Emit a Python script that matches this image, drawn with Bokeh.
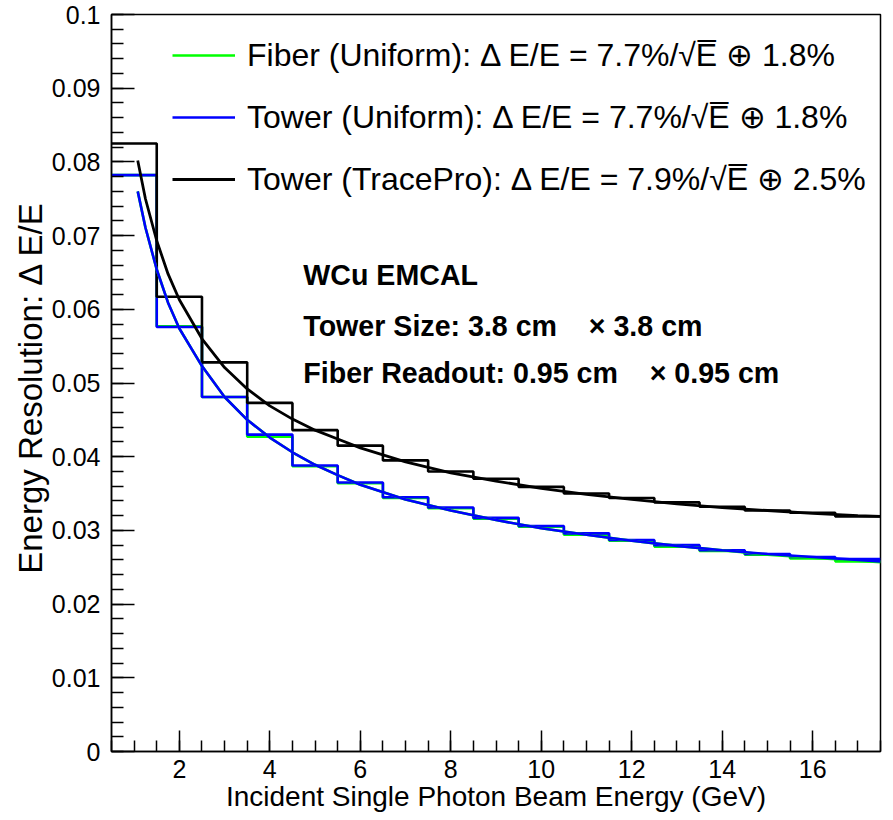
from bokeh.plotting import figure
from bokeh.models import Range1d, FixedTicker, Label, Legend, LegendItem
from bokeh.embed import file_html
from bokeh.resources import INLINE

# ---------------- data ----------------
bin_centers = [1, 2, 3, 4, 5, 6, 7, 8, 9, 10, 11, 12, 13, 14, 15, 16, 17]
bin_width = 1.0

fiber_hist = [0.0782, 0.0577, 0.0481, 0.0427, 0.0387, 0.0364, 0.0344, 0.0330, 0.0316,
              0.0305, 0.0294, 0.0286, 0.0278, 0.0272, 0.0267, 0.0262, 0.0258]
tower_hist = [0.0782, 0.0576, 0.0481, 0.0430, 0.0388, 0.0365, 0.0345, 0.0331, 0.0317,
              0.0306, 0.0296, 0.0287, 0.0280, 0.0273, 0.0268, 0.0264, 0.0261]
tracepro_hist = [0.0825, 0.0617, 0.0528, 0.0473, 0.0436, 0.0415, 0.0395, 0.0380, 0.0370,
                 0.0359, 0.0350, 0.0344, 0.0338, 0.0332, 0.0327, 0.0324, 0.0319]

fit_energy = [1.08, 1.25, 1.5, 1.75, 2.0, 2.5, 3.0, 3.5, 4.0, 4.5, 5.0, 5.5, 6.0,
              7.0, 8.0, 9.0, 10.0, 11.0, 12.0, 13.0, 14.0, 15.0, 16.0, 17.0, 17.5]
tower_fit = [0.0760, 0.0711, 0.0654, 0.0609, 0.0574, 0.0523, 0.0481, 0.0450, 0.0426,
             0.0406, 0.0389, 0.0375, 0.0362, 0.0342, 0.0327, 0.0314, 0.0303, 0.0294,
             0.0286, 0.0279, 0.0273, 0.0268, 0.0264, 0.0260, 0.0258]
fiber_fit = [0.0760, 0.0711, 0.0654, 0.0609, 0.0574, 0.0523, 0.0481, 0.0450, 0.0426,
             0.0406, 0.0389, 0.0375, 0.0362, 0.0342, 0.0327, 0.0314, 0.0303, 0.0294,
             0.0286, 0.0279, 0.0273, 0.0267, 0.0263, 0.0259, 0.0257]
tracepro_fit = [0.0802, 0.0750, 0.0693, 0.0648, 0.0613, 0.0560, 0.0521, 0.0492, 0.0469,
                0.0451, 0.0436, 0.0424, 0.0412, 0.0393, 0.0378, 0.0367, 0.0357, 0.0349,
                0.0342, 0.0336, 0.0331, 0.0327, 0.0323, 0.0320, 0.0319]

legend_labels = [
    "Fiber (Uniform): \u0394 E/E = 7.7%/\u221aE\u0305 \u2295 1.8%",
    "Tower (Uniform): \u0394 E/E = 7.7%/\u221aE\u0305 \u2295 1.8%",
    "Tower (TracePro): \u0394 E/E = 7.9%/\u221aE\u0305 \u2295 2.5%",
]
GAP = "\u00a0\u00a0\u00a0 "
info_lines = [
    "WCu EMCAL",
    "Tower Size: 3.8 cm" + GAP + "\u00d7 3.8 cm",
    "Fiber Readout: 0.95 cm" + GAP + "\u00d7 0.95 cm",
]
info_y = [0.0646, 0.0577, 0.0513]
info_x = 4.74

x_major_ticks = [2, 4, 6, 8, 10, 12, 14, 16]
y_major_ticks = [0, 0.01, 0.02, 0.03, 0.04, 0.05, 0.06, 0.07, 0.08, 0.09, 0.1]
y_tick_labels = ["0", "0.01", "0.02", "0.03", "0.04", "0.05", "0.06", "0.07", "0.08", "0.09", "0.1"]

x_title = "Incident Single Photon Beam Energy (GeV)"
y_title = "Energy Resolution:  \u0394 E/E"

FONT = "Liberation Sans"
GREEN, BLUE, BLACK = "#00ff00", "#0000ff", "#000000"

# ---------------- figure ----------------
p = figure(width=885, height=820,
           x_range=Range1d(0.5, 17.5), y_range=Range1d(0, 0.1),
           output_backend="svg", toolbar_location=None,
           min_border_left=111, min_border_right=5,
           min_border_top=14, min_border_bottom=69)
p.grid.visible = False
p.outline_line_color = "black"
p.outline_line_width = 1.5
p.background_fill_color = "white"
p.border_fill_color = "white"

minor_x = [0.5 * k for k in range(1, 36)]
minor_y = [0.002 * k for k in range(0, 51)]
p.xaxis.ticker = FixedTicker(ticks=x_major_ticks, minor_ticks=minor_x)
p.yaxis.ticker = FixedTicker(ticks=y_major_ticks, minor_ticks=minor_y)
p.yaxis.major_label_overrides = {t: l for t, l in zip(y_major_ticks, y_tick_labels)}

for ax in (p.xaxis[0], p.yaxis[0]):
    ax.major_tick_out = 0
    ax.minor_tick_out = 0
    ax.axis_line_width = 1.5
    ax.axis_line_color = "black"
    ax.major_tick_line_width = 1.5
    ax.minor_tick_line_width = 1.5
    ax.major_tick_line_color = "black"
    ax.minor_tick_line_color = "black"
    ax.major_label_text_font = FONT
    ax.major_label_text_color = "black"
    ax.major_label_text_font_size = "25px"
    ax.axis_label_text_font = FONT
    ax.axis_label_text_font_style = "normal"
    ax.axis_label_text_color = "black"

p.xaxis.major_tick_in = 21
p.xaxis.minor_tick_in = 11
p.xaxis.major_label_standoff = 8
p.xaxis.axis_label = x_title
p.xaxis.axis_label_text_font_size = "28px"
p.xaxis.axis_label_standoff = 0

p.yaxis.major_tick_in = 23
p.yaxis.minor_tick_in = 12
p.yaxis.major_label_standoff = 11
p.yaxis.axis_label = y_title
p.yaxis.axis_label_text_font_size = "33px"
p.yaxis.axis_label_standoff = 0


def step_xy(vals):
    edges = [c - bin_width / 2 for c in bin_centers] + [bin_centers[-1] + bin_width / 2]
    return edges, list(vals) + [vals[-1]]


LW = 2.6
for vals, col in ((fiber_hist, GREEN), (tower_hist, BLUE), (tracepro_hist, BLACK)):
    ex, ey = step_xy(vals)
    p.step(ex, ey, mode="after", line_color=col, line_width=LW)

r_fiber = p.line(fit_energy, fiber_fit, line_color=GREEN, line_width=LW)
r_tower = p.line(fit_energy, tower_fit, line_color=BLUE, line_width=LW)
r_trace = p.line(fit_energy, tracepro_fit, line_color=BLACK, line_width=2.8)

legend = Legend(
    items=[LegendItem(label=legend_labels[0], renderers=[r_fiber]),
           LegendItem(label=legend_labels[1], renderers=[r_tower]),
           LegendItem(label=legend_labels[2], renderers=[r_trace])],
    location=(61, 553), padding=0, margin=0,
    border_line_alpha=0, background_fill_alpha=0,
    glyph_width=63, glyph_height=38, label_height=38, label_standoff=12,
    spacing=24, label_text_font=FONT, label_text_font_size="32px",
    label_text_color="black",
)
p.add_layout(legend)

for txt, yy in zip(info_lines, info_y):
    p.add_layout(Label(x=info_x, y=yy, text=txt, text_font=FONT, text_font_size="28.6px",
                       text_font_style="bold", text_baseline="middle", text_align="left",
                       text_color="black"))

open("out.html", "w").write(file_html(p, INLINE))
